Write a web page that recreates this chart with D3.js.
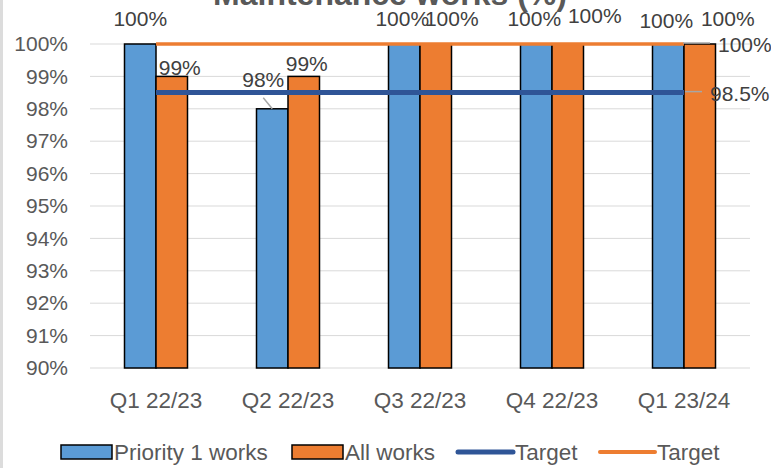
<!DOCTYPE html>
<html>
<head>
<meta charset="utf-8">
<script src="https://cdn.jsdelivr.net/npm/d3@7"></script>
<style>
  body { margin: 0; background: #fff; }
  svg { display: block; font-family: "Liberation Sans", Arial, sans-serif; }
</style>
</head>
<body>
<div id="chart"></div>
<script>
var width = 771;
var height = 468;

// chart data
var categories = ["Q1 22/23", "Q2 22/23", "Q3 22/23", "Q4 22/23", "Q1 23/24"];
var priority1 = [100, 98, 100, 100, 100];
var allWorks = [99, 99, 100, 100, 100];
var targetBlue = 98.5;
var targetOrange = 100;
var yTicks = [90, 91, 92, 93, 94, 95, 96, 97, 98, 99, 100];

// manual label nudges (Excel had them dragged around)
var p1Offsets = [[0, -18], [-9, -22], [-2, -18], [-2, -18], [-2, -16]];
var allOffsets = [[8, -1], [3, -5], [16, -18], [27, -21], [28, -18]];

var blue = "#5B9BD5";
var orange = "#ED7D31";
var darkBlue = "#2F5597";

var svg = d3.select("#chart").append("svg")
    .attr("width", width)
    .attr("height", height)

svg.append("rect")
    .attr("width", width)
    .attr("height", height)
    .attr("fill", "white")

svg.append("rect")
    .attr("width", 3)
    .attr("height", height)
    .attr("fill", "#dcdcdc")

var x = d3.scaleBand().domain(categories).range([90, 750]).padding(0)
var y = d3.scaleLinear().domain([90, 100]).range([368, 44])
var barW = 31.5;
var cx = function(c) { return x(c) + x.bandwidth() / 2; }

// title, mostly cut off at the top
svg.append("text")
    .attr("x", 390)
    .attr("y", 5)
    .attr("text-anchor", "middle")
    .attr("font-size", 32)
    .attr("font-weight", "bold")
    .attr("fill", "#595959")
    .text("Maintenance works (%)")

// gridlines
svg.selectAll(".grid")
    .data(yTicks)
    .enter().append("line")
    .attr("class", "grid")
    .attr("x1", 90)
    .attr("x2", 750)
    .attr("y1", function(d) { return y(d); })
    .attr("y2", function(d) { return y(d); })
    .attr("stroke", "#d9d9d9")
    .attr("stroke-width", 1)

// y axis
var yAxis = svg.append("g")
    .attr("transform", "translate(90,0)")
    .call(d3.axisLeft(y).tickValues(yTicks).tickSize(0).tickPadding(22).tickFormat(function(d) { return d + "%"; }))
yAxis.select(".domain").remove()
yAxis.selectAll("text")
    .attr("font-family", "Liberation Sans, Arial, sans-serif")
    .attr("font-size", 21)
    .attr("fill", "#595959")

// x axis
var xAxis = svg.append("g")
    .attr("transform", "translate(0,368)")
    .call(d3.axisBottom(x).tickSize(0).tickPadding(24))
xAxis.select(".domain").remove()
xAxis.selectAll("text")
    .attr("font-family", "Liberation Sans, Arial, sans-serif")
    .attr("font-size", 22.5)
    .attr("fill", "#595959")

// bars
svg.selectAll(".p1")
    .data(priority1)
    .enter().append("rect")
    .attr("class", "p1")
    .attr("x", function(d, i) { return cx(categories[i]) - barW; })
    .attr("y", function(d) { return y(d); })
    .attr("width", barW)
    .attr("height", function(d) { return y(90) - y(d); })
    .attr("fill", blue)
    .attr("stroke", "black")
    .attr("stroke-width", 1.5)

svg.selectAll(".all")
    .data(allWorks)
    .enter().append("rect")
    .attr("class", "all")
    .attr("x", function(d, i) { return cx(categories[i]); })
    .attr("y", function(d) { return y(d); })
    .attr("width", barW)
    .attr("height", function(d) { return y(90) - y(d); })
    .attr("fill", orange)
    .attr("stroke", "black")
    .attr("stroke-width", 1.5)

// target lines
var first = cx(categories[0]);
var last = cx(categories[categories.length - 1]);

svg.append("line")
    .attr("x1", first).attr("x2", last)
    .attr("y1", y(targetOrange)).attr("y2", y(targetOrange))
    .attr("stroke", orange)
    .attr("stroke-width", 3.5)

svg.append("line")
    .attr("x1", first).attr("x2", last)
    .attr("y1", y(targetBlue)).attr("y2", y(targetBlue))
    .attr("stroke", darkBlue)
    .attr("stroke-width", 5)

// leader lines
var leaders = [
    [cx(categories[1]) - barW / 2 - 9, y(priority1[1]) - 11, cx(categories[1]) - barW / 2, y(priority1[1])],
    [last - 1, y(targetOrange) - 1, last + 26, y(targetOrange) - 1],
    [last + 1, y(targetBlue) - 1, last + 18, y(targetBlue) - 1]
];
svg.selectAll(".leader")
    .data(leaders)
    .enter().append("line")
    .attr("class", "leader")
    .attr("x1", function(d) { return d[0]; })
    .attr("y1", function(d) { return d[1]; })
    .attr("x2", function(d) { return d[2]; })
    .attr("y2", function(d) { return d[3]; })
    .attr("stroke", "#a6a6a6")
    .attr("stroke-width", 1.5)

// data labels
function addLabels(values, offsets, shift) {
    svg.selectAll(null)
        .data(values)
        .enter().append("text")
        .attr("x", function(d, i) { return cx(categories[i]) + shift + offsets[i][0]; })
        .attr("y", function(d, i) { return y(d) + offsets[i][1]; })
        .attr("text-anchor", "middle")
        .attr("font-size", 21)
        .attr("fill", "#404040")
        .text(function(d) { return d + "%"; })
}
addLabels(priority1, p1Offsets, -barW / 2);
addLabels(allWorks, allOffsets, barW / 2);

svg.append("text")
    .attr("x", last + 34).attr("y", y(targetOrange) + 8)
    .attr("font-size", 21).attr("fill", "#404040")
    .text(targetOrange + "%")

svg.append("text")
    .attr("x", last + 26).attr("y", y(targetBlue) + 8)
    .attr("font-size", 21).attr("fill", "#404040")
    .text(targetBlue + "%")

// legend
var legendItems = [
    { label: "Priority 1 works", type: "rect", color: blue, x: 61, w: 51 },
    { label: "All works", type: "rect", color: orange, x: 292, w: 51 },
    { label: "Target", type: "line", color: darkBlue, x: 458, w: 55 },
    { label: "Target", type: "line", color: orange, x: 600, w: 55 }
];
var legend = svg.selectAll(".legend")
    .data(legendItems)
    .enter().append("g")
    .attr("class", "legend")
    .attr("transform", function(d) { return "translate(" + d.x + ",452)"; })

legend.filter(function(d) { return d.type == "rect"; })
    .append("rect")
    .attr("x", 0).attr("y", -7)
    .attr("width", function(d) { return d.w; })
    .attr("height", 14)
    .attr("fill", function(d) { return d.color; })
    .attr("stroke", "black")
    .attr("stroke-width", 1.5)

legend.filter(function(d) { return d.type == "line"; })
    .append("line")
    .attr("x1", 0).attr("x2", function(d) { return d.w; })
    .attr("y1", 0).attr("y2", 0)
    .attr("stroke", function(d) { return d.color; })
    .attr("stroke-width", function(d) { return d.color == orange ? 4 : 5; })
    .attr("stroke-linecap", "round")

legend.append("text")
    .attr("x", function(d) { return d.w + 2; })
    .attr("y", 8)
    .attr("font-size", 22.5)
    .attr("fill", "#595959")
    .text(function(d) { return d.label; })
</script>
</body>
</html>
